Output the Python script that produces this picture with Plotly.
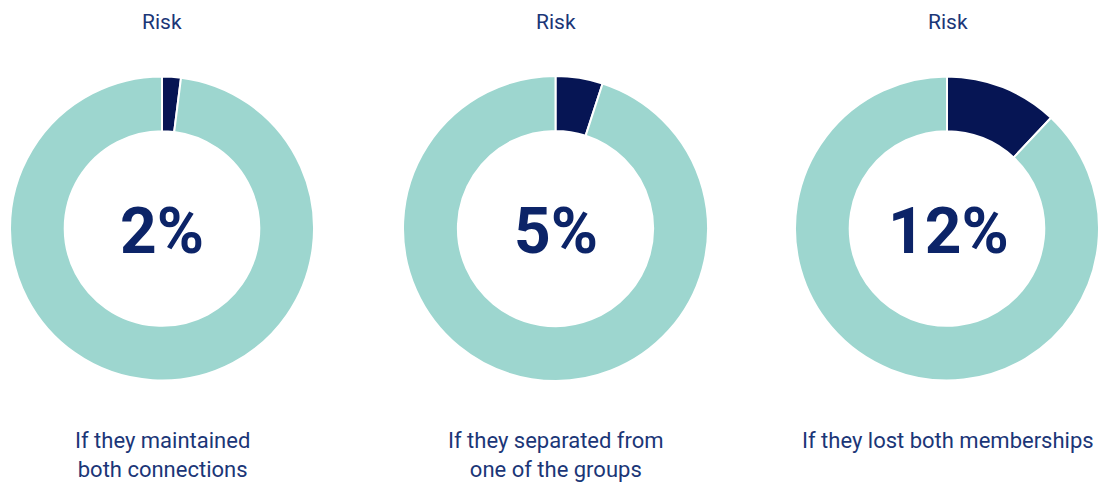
import plotly.graph_objects as go

# Risk share for each scenario (percent)
risk_values = [2, 5, 12]
scenario_labels = [
    "If they maintained<br>both connections",
    "If they separated from<br>one of the groups",
    "If they lost both memberships",
]
label_y = [455, 455, 440]
header_text = "Risk"

W, H = 1099, 483
NAVY = "#061554"
TEAL = "#9dd6cf"
TEXT = "#1b3677"
BIG = "#0c2468"

# horizontal pixel spans of the three rings
x_spans = [(10, 314), (403, 708), (795, 1101)]
y_span = (76, 381)

fig = go.Figure()
for i, v in enumerate(risk_values):
    x0, x1 = x_spans[i]
    fig.add_trace(go.Pie(
        values=[v, 100 - v],
        labels=["Risk", "Other"],
        marker=dict(colors=[NAVY, TEAL], line=dict(color="white", width=2)),
        hole=0.64,
        sort=False,
        direction="clockwise",
        rotation=0,
        textinfo="none",
        hoverinfo="skip",
        showlegend=False,
        domain=dict(x=[x0 / W, min(x1 / W, 1)], y=[1 - y_span[1] / H, 1 - y_span[0] / H]),
    ))
    cx = (x0 + x1) / 2 / W
    fig.add_annotation(x=cx, y=1 - 22 / H, xref="paper", yref="paper",
                       xanchor="center", yanchor="middle",
                       text=header_text, showarrow=False,
                       font=dict(family="Roboto", size=21, color=TEXT))
    fig.add_annotation(x=cx, y=1 - 231 / H, xref="paper", yref="paper",
                       xanchor="center", yanchor="middle",
                       text=f"<b>{v}%</b>", showarrow=False,
                       font=dict(family="Roboto", size=64, color=BIG))
    fig.add_annotation(x=cx, y=1 - label_y[i] / H, xref="paper", yref="paper",
                       xanchor="center", yanchor="middle",
                       text=scenario_labels[i], showarrow=False,
                       font=dict(family="Roboto", size=22, color=TEXT))

fig.update_layout(
    width=W, height=H,
    margin=dict(l=0, r=0, t=0, b=0),
    paper_bgcolor="white", plot_bgcolor="white",
)
fig.write_html("out.html")
